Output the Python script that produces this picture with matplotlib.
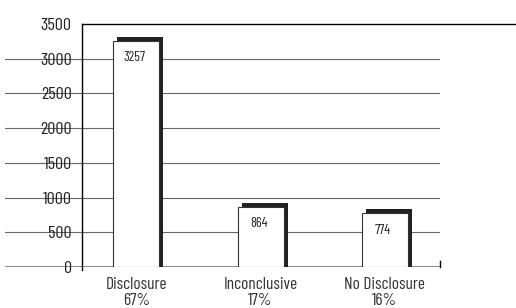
import matplotlib
matplotlib.use("Agg")
import matplotlib.pyplot as plt

categories = ["Disclosure", "Inconclusive", "No Disclosure"]
percents = ["67%", "17%", "16%"]
counts = [3257, 864, 774]
y_ticks = [0, 500, 1000, 1500, 2000, 2500, 3000, 3500]


def main():
    """
    bar chart of disclosure outcomes with drop shadow bars
    """
    plt.rcParams["font.family"] = ["Barlow Condensed", "Roboto Condensed", "DejaVu Sans"]

    fig = plt.figure(figsize=(5.16, 3.08), dpi=100)
    # axes spans the gridline extent (px 5..440), y=0 at px 267, y=3500 at px 24
    ax = fig.add_axes([5 / 516, 41 / 308, 435 / 516, 243 / 308])

    x = list(range(len(categories)))
    ax.set_xlim(-1.058, 2.445)
    ax.set_ylim(0, 3500)

    # gridlines
    for t in y_ticks[1:-1]:
        ax.axhline(t, color="#666666", lw=0.8, zorder=1)
    ax.axhline(0, color="#888888", lw=1.4, zorder=1)

    # y axis line and top border running off to the right edge
    ax.plot([-0.439, -0.439], [-40, 3500], color="black", lw=1.0, clip_on=False, zorder=2)
    ax.plot([-0.439, 3.06], [3500, 3500], color="black", lw=1.0, clip_on=False, zorder=2)
    ax.plot([2.445, 2.445], [0, 90], color="black", lw=1.0, clip_on=False, zorder=2)

    width = 0.37
    dx = 0.032
    dy = 58
    # shadow bars
    ax.bar([i + dx for i in x], [c + dy for c in counts], width=width,
           color="#222222", zorder=3)
    # front bars
    ax.bar(x, counts, width=width, color="white", edgecolor="#333333",
           linewidth=0.8, zorder=4)

    for i, c in zip(x, counts):
        ax.annotate(str(c), (i - 0.015, c), xytext=(0, -7.5), textcoords="offset points",
                    ha="center", va="top", fontsize=10, color="#222222", zorder=5)

    ax.set_yticks(y_ticks)
    ax.set_yticklabels([str(t) for t in y_ticks], fontsize=13, color="#222222")
    ax.yaxis.set_tick_params(length=0, pad=-48)

    ax.set_xticks(x)
    ax.set_xticklabels([f"{c}\n{p}" for c, p in zip(categories, percents)],
                       fontsize=12.5, color="#333333", linespacing=1.1)
    ax.xaxis.set_tick_params(length=0, pad=7)

    for s in ax.spines.values():
        s.set_visible(False)

    fig.savefig("out.png", dpi=100)


if __name__ == "__main__":
    main()
